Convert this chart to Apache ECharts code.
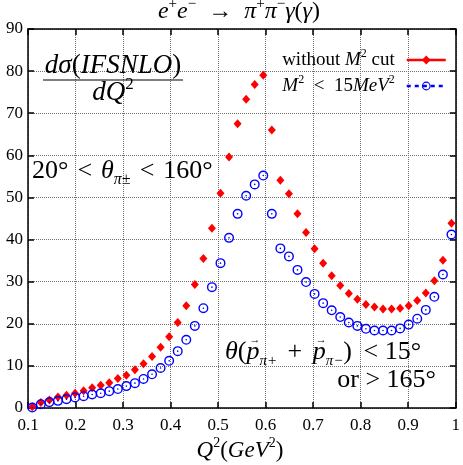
<!DOCTYPE html>
<html>
<head>
<meta charset="utf-8">
<script src="https://cdn.jsdelivr.net/npm/echarts@6/dist/echarts.min.js"></script>
<style>
  html, body { margin: 0; padding: 0; background: #fff; }
  #chart { width: 463px; height: 465px; }
</style>
</head>
<body>
<div id="chart"></div>
<script>
// bin centres in Q^2 (GeV^2)
const q2 = [0.109, 0.127, 0.145, 0.163, 0.181, 0.199, 0.217, 0.235, 0.253, 0.271,
            0.289, 0.307, 0.325, 0.343, 0.361, 0.379, 0.397, 0.415, 0.433, 0.451,
            0.469, 0.487, 0.505, 0.523, 0.541, 0.559, 0.577, 0.595, 0.613, 0.631,
            0.649, 0.667, 0.685, 0.703, 0.721, 0.739, 0.757, 0.775, 0.793, 0.811,
            0.829, 0.847, 0.865, 0.883, 0.901, 0.919, 0.937, 0.955, 0.973, 0.991]

// without M^2 cut
const noCut = [0.3, 1.3, 1.9, 2.6, 3.0, 3.5, 4.1, 4.8, 5.4, 6.0,
               7.0, 7.8, 9.1, 10.5, 12.2, 14.4, 16.9, 20.3, 24.3, 29.3,
               35.5, 42.7, 51.0, 59.6, 67.5, 73.3, 76.8, 79.0, 66.0, 54.1,
               50.9, 46.1, 41.7, 37.8, 34.4, 31.4, 29.1, 27.2, 25.8, 24.6,
               24.0, 23.5, 23.5, 23.7, 24.3, 25.5, 27.3, 30.2, 35.1, 43.9]

// M^2 < 15 MeV^2
const withCut = [0.1, 0.9, 1.4, 1.7, 2.1, 2.5, 2.8, 3.2, 3.5, 4.0,
                 4.5, 5.2, 5.9, 6.9, 8.0, 9.5, 11.2, 13.5, 16.2, 19.5,
                 23.7, 28.7, 34.4, 40.4, 46.1, 50.4, 53.1, 55.2, 46.1, 37.9,
                 36.0, 32.8, 29.9, 27.1, 24.9, 23.2, 21.6, 20.3, 19.5, 18.8,
                 18.4, 18.4, 18.4, 18.9, 19.8, 21.2, 23.3, 26.4, 31.7, 41.2]

const xTicks = [0.1, 0.2, 0.3, 0.4, 0.5, 0.6, 0.7, 0.8, 0.9, 1.0]
const xTickLabels = ['0.1', '0.2', '0.3', '0.4', '0.5', '0.6', '0.7', '0.8', '0.9', '1']
const yTicks = [0, 10, 20, 30, 40, 50, 60, 70, 80, 90]
const yTickLabels = ['0', '10', '20', '30', '40', '50', '60', '70', '80', '90']

const FONT = '"Liberation Serif", "DejaVu Serif", serif'
// ring with a dot in the middle
const RING = 'path://M0,-10A10,10 0 1,1 0,10A10,10 0 1,1 0,-10Z' +
             'M0,-7.2A7.2,7.2 0 1,0 0,7.2A7.2,7.2 0 1,0 0,-7.2Z' +
             'M0,-1.6A1.6,1.6 0 1,1 0,1.6A1.6,1.6 0 1,1 0,-1.6Z'

function richSet(size) {
  const lh = Math.round(size * 1.25)
  const small = Math.round(size * 0.62)
  return {
    n: { fontFamily: FONT, fontSize: size, lineHeight: lh, color: '#000' },
    i: { fontFamily: FONT, fontSize: size, lineHeight: lh, fontStyle: 'italic', color: '#000' },
    sup: { fontFamily: FONT, fontSize: small, lineHeight: small + 2, verticalAlign: 'top', color: '#000' },
    sub: { fontFamily: FONT, fontSize: small, lineHeight: small + 2, verticalAlign: 'bottom', fontStyle: 'italic', color: '#000' },
    g: { width: 7 },
    s: { width: 9 }
  }
}

function label(text, x, y, size, align) {
  return {
    type: 'text', x: x, y: y, z: 5,
    style: { text: text, rich: richSet(size), textAlign: align || 'center', textVerticalAlign: 'middle' }
  }
}

// lay out pieces one after another (needed for the vector arrows over p)
const measure = document.createElement('canvas').getContext('2d')
function run(pieces, x, y) {
  const out = []
  pieces.forEach(p => {
    if (typeof p === 'number') { x += p; return }
    const [text, size, italic, dy, arrow] = p
    const font = (italic ? 'italic ' : '') + size + 'px ' + FONT
    measure.font = font
    const w = measure.measureText(text).width
    out.push({ type: 'text', x: x, y: y + dy, z: 5,
      style: { text: text, font: font, fill: '#000', textAlign: 'left', textVerticalAlign: 'middle' } })
    if (arrow) {
      out.push({ type: 'text', x: x + w / 2 + 2, y: y - 12, z: 5,
        style: { text: '→', font: '11px ' + FONT, fill: '#000', textAlign: 'center', textVerticalAlign: 'middle' } })
    }
    x += w
  })
  return out
}

function tickName(ticks, labels) {
  return v => {
    const i = ticks.findIndex(t => Math.abs(t - v) < 1e-6)
    return i < 0 ? '' : labels[i]
  }
}

const frame = { show: true, onZero: false, lineStyle: { color: '#000', width: 1.5 } }
const ticks = { show: true, inside: true, length: 6, lineStyle: { color: '#000', width: 1.5 } }
const grid = { show: true, lineStyle: { color: '#707070', type: 'dotted', width: 1 } }
const tickFont = { color: '#000', fontFamily: FONT, fontSize: 17 }

const chart = echarts.init(document.getElementById('chart'))
chart.setOption({
  animation: false,
  backgroundColor: '#fff',
  grid: { left: 28, right: 7, top: 29, bottom: 57 },
  xAxis: [
    { type: 'value', min: 0.1, max: 1, interval: 0.1, position: 'bottom',
      axisLine: frame, axisTick: ticks, splitLine: grid,
      axisLabel: Object.assign({ margin: 9, formatter: tickName(xTicks, xTickLabels) }, tickFont) },
    { type: 'value', min: 0.1, max: 1, interval: 0.1, position: 'top',
      axisLine: frame, axisTick: ticks, splitLine: { show: false }, axisLabel: { show: false } }
  ],
  yAxis: [
    { type: 'value', min: 0, max: 90, interval: 10, position: 'left',
      axisLine: frame, axisTick: ticks, splitLine: grid,
      axisLabel: Object.assign({ margin: 5, formatter: tickName(yTicks, yTickLabels) }, tickFont) },
    { type: 'value', min: 0, max: 90, interval: 10, position: 'right',
      axisLine: frame, axisTick: ticks, splitLine: { show: false }, axisLabel: { show: false } }
  ],
  legend: [
    { data: ['noCut'], right: 16, top: 48, padding: 0, align: 'right', orient: 'vertical',
      selectedMode: false, itemWidth: 39, itemHeight: 11,
      lineStyle: { color: '#ff0000', width: 2.5, opacity: 1, type: 'solid' },
      formatter: () => '{n|without }{i|M}{sup|2}{n| cut}{g|}',
      textStyle: { rich: richSet(19) } },
    { data: ['cut'], right: 16, top: 74, padding: 0, align: 'right', orient: 'vertical',
      selectedMode: false, itemWidth: 39, itemHeight: 11,
      lineStyle: { color: '#0000ff', width: 2.5, opacity: 1, type: [4, 4] },
      formatter: () => '{i|M}{sup|2}{n|  <  15}{i|MeV}{sup|2}{g|}',
      textStyle: { rich: richSet(19) } }
  ],
  series: [
    { name: 'noCut', type: 'line', data: q2.map((x, i) => [x, noCut[i]]),
      symbol: 'diamond', symbolSize: [8, 9], showSymbol: true,
      itemStyle: { color: '#ff0000' }, lineStyle: { width: 0, opacity: 0 }, z: 3 },
    { name: 'cut', type: 'line', data: q2.map((x, i) => [x, withCut[i]]),
      symbol: RING, symbolSize: 10, showSymbol: true,
      itemStyle: { color: '#0000ff' }, lineStyle: { width: 0, opacity: 0 }, z: 4 }
  ],
  graphic: [
    label('{i|e}{sup|+}{i|e}{sup|−}{n|  →  }{i|π}{sup|+}{i|π}{sup|−}{i|γ}{n|(}{i|γ}{n|)}', 239, 12, 24),
    label('{i|dσ}{n|(}{i|IFSNLO}{n|)}', 113, 66, 27),
    { type: 'line', z: 5, shape: { x1: 43, y1: 80, x2: 183, y2: 80 }, style: { stroke: '#000', lineWidth: 1.2 } },
    label('{i|dQ}{sup|2}', 113, 93, 27),
    label('{n|20°}{s|}{n|<}{s|}{i|θ}{sub|π±}{s|}{n|<}{s|}{n|160°}', 32, 171, 26, 'left'),
    ...run([['θ', 26, true, 0], ['(', 26, false, 0], ['p', 26, true, 0, true], ['π+', 15, true, 9], 4,
            [' + ', 26, false, 0], 4, ['p', 26, true, 0, true], ['π−', 15, true, 9], [')', 26, false, 0], 5,
            [' < 15°', 26, false, 0]], 225, 352),
    label('{n|or > 165°}', 436, 380, 26, 'right'),
    label('{i|Q}{sup|2}{n|(}{i|GeV}{sup|2}{n|)}', 240, 451, 23)
  ]
})
</script>
</body>
</html>
